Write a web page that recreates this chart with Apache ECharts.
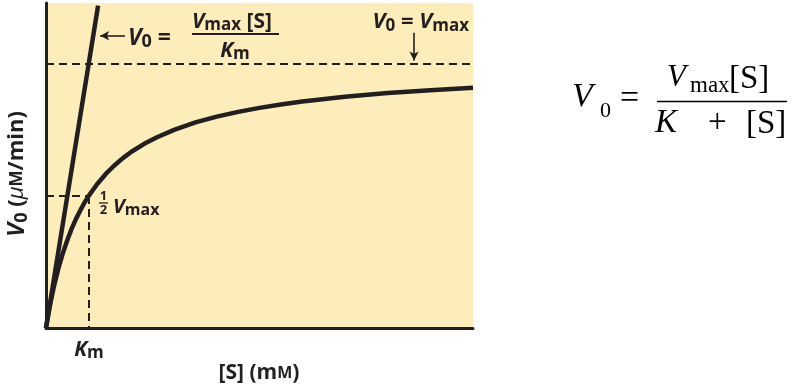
<!DOCTYPE html>
<html><head><meta charset="utf-8">
<script src="https://cdn.jsdelivr.net/npm/echarts@6/dist/echarts.min.js"></script>
<style>html,body{margin:0;padding:0;background:#fff}#c{width:808px;height:388px}</style>
</head><body><div id="c"></div>
<script>
// Michaelis-Menten curve (Km = 1 unit, Vmax = 1 unit)
const substrate = [0, 0.05, 0.1, 0.15, 0.2, 0.3, 0.4, 0.5, 0.6, 0.7, 0.8, 0.9, 1, 1.2, 1.4, 1.6, 1.8, 2, 2.3, 2.6, 3, 3.5, 4, 4.5, 5, 5.5, 6, 7, 8, 9, 10];
const velocity  = [0, 0.048, 0.091, 0.13, 0.167, 0.231, 0.286, 0.333, 0.375, 0.412, 0.444, 0.474, 0.5, 0.545, 0.583, 0.615, 0.643, 0.667, 0.697, 0.722, 0.75, 0.778, 0.8, 0.818, 0.833, 0.846, 0.857, 0.875, 0.889, 0.9, 0.909];
// initial-slope line V0 = Vmax[S]/Km
const tangentS = [0, 1.22];
const tangentV = [0, 1.22];
const Km = 1, Vmax = 1, halfVmax = 0.5;
const xMax = 10, yMax = 1.23;
// annotation arrows (data coords)
const arrowTangent = [[1.85, 1.106], [1.27, 1.106]];
const arrowVmax = [[8.62, 1.117], [8.62, 1.012]];

const ink = '#231f20';
const F = '"Open Sans", sans-serif';
const SERIF = '"Liberation Serif", serif';
const chart = echarts.init(document.getElementById('c'));

const curveData = substrate.map((s, i) => [s, velocity[i]]);
const tangentData = tangentS.map((s, i) => [s, tangentV[i]]);

const dash = { color: ink, width: 2, type: [8, 5] };

function sty(size, lh, extra) {
  return Object.assign({ fontFamily: F, fontSize: size, fontWeight: 'bold', lineHeight: lh, fill: ink }, extra || {});
}
function serif(x, y, text, size, italic) {
  return { type: 'text', x: x, y: y, style: { text: text, align: 'left', verticalAlign: 'middle', fill: '#000',
    fontFamily: SERIF, fontSize: size, fontStyle: italic ? 'italic' : 'normal' } };
}

chart.setOption({
  animation: false,
  grid: { left: 46, right: 335, top: 3, bottom: 60, show: true, backgroundColor: '#fdedbb', borderWidth: 0 },
  xAxis: { type: 'value', min: 0, max: xMax, axisLine: { show: true, onZero: false, lineStyle: { color: ink, width: 3 } },
    axisTick: { show: false }, axisLabel: { show: false }, splitLine: { show: false } },
  yAxis: { type: 'value', min: 0, max: yMax, axisLine: { show: true, onZero: false, lineStyle: { color: ink, width: 3 } },
    axisTick: { show: false }, axisLabel: { show: false }, splitLine: { show: false } },
  series: [
    { type: 'line', data: curveData, smooth: false, showSymbol: false, lineStyle: { color: ink, width: 4.5, join: 'round' }, z: 5,
      markLine: { silent: true, symbol: 'none', animation: false, label: { show: false }, lineStyle: dash,
        data: [
          [{ coord: [0, Vmax] }, { coord: [xMax, Vmax] }],
          [{ coord: [0, halfVmax] }, { coord: [Km, halfVmax] }],
          [{ coord: [Km, halfVmax] }, { coord: [Km, 0] }]
        ] } },
    { type: 'line', data: tangentData, showSymbol: false, lineStyle: { color: ink, width: 4.5 }, z: 5,
      markLine: { silent: true, symbol: ['none', 'arrow'], symbolSize: [7, 9], animation: false, label: { show: false },
        lineStyle: { color: ink, width: 1.6, type: 'solid' },
        data: [
          [{ coord: arrowTangent[0] }, { coord: arrowTangent[1] }],
          [{ coord: arrowVmax[0] }, { coord: arrowVmax[1] }]
        ] } }
  ],
  graphic: [
    // y axis title
    { type: 'text', x: 17, y: 174, rotation: Math.PI / 2, style: {
      text: '{v|V}{s|0}{n| (}{mu|μ}{sc|M}{n|/min)}', align: 'center', verticalAlign: 'middle', fill: ink,
      rich: {
        v: sty(24, 28, { fontStyle: 'italic' }),
        s: sty(18, 19, { verticalAlign: 'bottom' }),
        n: sty(22, 28),
        mu: sty(22, 28, { fontStyle: 'italic', fontWeight: 'normal' }),
        sc: sty(17, 28)
      } } },
    // x axis title
    { type: 'text', x: 259, y: 373, style: {
      text: '{n|[S] (m}{sc|M}{n|)}', align: 'center', verticalAlign: 'middle', fill: ink,
      rich: {
        n: sty(21, 26),
        sc: sty(16, 26)
      } } },
    // Km tick label
    { type: 'text', x: 89, y: 350, style: {
      text: '{v|K}{s|m}', align: 'center', verticalAlign: 'middle', fill: ink,
      rich: {
        v: sty(21, 24, { fontStyle: 'italic' }),
        s: sty(17, 16, { verticalAlign: 'bottom' })
      } } },
    // V0 = Vmax[S]/Km (initial slope)
    { type: 'text', x: 128, y: 38, style: {
      text: '{v|V}{s|0}{n| =}', align: 'left', verticalAlign: 'middle', fill: ink,
      rich: {
        v: sty(23, 26, { fontStyle: 'italic' }),
        s: sty(18, 18, { verticalAlign: 'bottom' }),
        n: sty(23, 26)
      } } },
    { type: 'text', x: 232, y: 22, style: {
      text: '{v|V}{s|max}{n| [S]}', align: 'center', verticalAlign: 'middle', fill: ink,
      rich: {
        v: sty(21, 24, { fontStyle: 'italic' }),
        s: sty(17, 17, { verticalAlign: 'bottom' }),
        n: sty(21, 24)
      } } },
    { type: 'line', shape: { x1: 192, y1: 34, x2: 279, y2: 34 }, style: { stroke: ink, lineWidth: 2 } },
    { type: 'text', x: 235, y: 51, style: {
      text: '{v|K}{s|m}', align: 'center', verticalAlign: 'middle', fill: ink,
      rich: {
        v: sty(21, 24, { fontStyle: 'italic' }),
        s: sty(17, 16, { verticalAlign: 'bottom' })
      } } },
    // V0 = Vmax
    { type: 'text', x: 469, y: 22, style: {
      text: '{v|V}{s|0}{n| = }{v|V}{s|max}', align: 'right', verticalAlign: 'middle', fill: ink,
      rich: {
        v: sty(22, 25, { fontStyle: 'italic' }),
        s: sty(17, 17, { verticalAlign: 'bottom' }),
        n: sty(22, 25)
      } } },
    // 1/2 Vmax
    { type: 'text', x: 103.5, y: 196, style: { text: '1', align: 'center', verticalAlign: 'middle', fill: ink,
      fontFamily: F, fontSize: 13, fontWeight: 'bold' } },
    { type: 'line', shape: { x1: 99, y1: 203, x2: 108, y2: 203 }, style: { stroke: ink, lineWidth: 1.3 } },
    { type: 'text', x: 103.5, y: 210, style: { text: '2', align: 'center', verticalAlign: 'middle', fill: ink,
      fontFamily: F, fontSize: 13, fontWeight: 'bold' } },
    { type: 'text', x: 113, y: 207, style: {
      text: '{v|V}{s|max}', align: 'left', verticalAlign: 'middle', fill: ink,
      rich: {
        v: sty(20, 22, { fontStyle: 'italic' }),
        s: sty(16, 16, { verticalAlign: 'bottom' })
      } } },
    // Right-hand equation (serif)
    serif(572, 97, 'V', 34, true),
    serif(600, 111, '0', 22, false),
    serif(620, 99, '=', 34, false),
    serif(667, 78, 'V', 31, true),
    serif(690, 86, 'max', 23, false),
    serif(729, 79, '[S]', 33, false),
    { type: 'line', shape: { x1: 657, y1: 101.5, x2: 787, y2: 101.5 }, style: { stroke: '#000', lineWidth: 1.6 } },
    serif(655, 123, 'K', 33, true),
    serif(708, 123, '+', 33, false),
    serif(746, 124, '[S]', 33, false)
  ]
});
</script>
</body></html>
